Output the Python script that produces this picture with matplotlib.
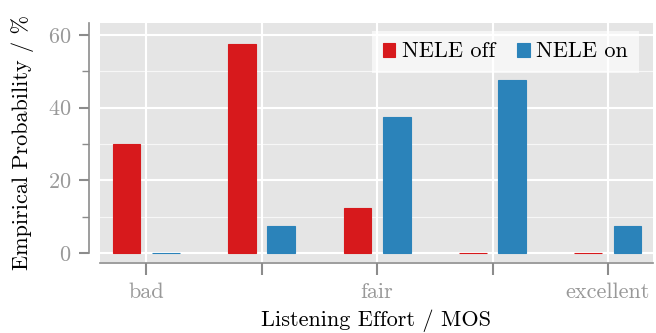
import numpy as np
import matplotlib
matplotlib.use('Agg')
import matplotlib.pyplot as plt
from matplotlib.ticker import MultipleLocator

categories = ['bad', 'poor', 'fair', 'good', 'excellent']
tick_labels = ['bad', '', 'fair', '', 'excellent']
nele_off = [30.0, 57.5, 12.5, 0.0, 0.0]
nele_on = [0.0, 7.5, 37.5, 47.5, 7.5]

plt.rcParams['font.family'] = ['cmr10', 'DejaVu Serif']
plt.rcParams['axes.formatter.use_mathtext'] = True
plt.rcParams['font.size'] = 16

red = '#d7191c'
blue = '#2b83ba'
spine_grey = '#8c8c8c'

fig = plt.figure(figsize=(6.56, 3.33), dpi=100)
ax = fig.add_axes([0.1524, 0.2132, 0.8430, 0.7178])
ax.set_facecolor('#e5e5e5')

x = np.arange(len(categories))
ax.bar(x - 0.17, nele_off, width=0.24, color=red, edgecolor=red, linewidth=0.8,
       label='NELE off', zorder=3)
ax.bar(x + 0.17, nele_on, width=0.24, color=blue, edgecolor=blue, linewidth=0.8,
       label='NELE on', zorder=3)

ax.set_xlim(-0.40, 4.39)
ax.set_ylim(-2.48, 63.3)

ax.set_xticks(x)
ax.set_xticklabels(tick_labels)
ax.yaxis.set_major_locator(MultipleLocator(20))
ax.yaxis.set_minor_locator(MultipleLocator(10))

ax.grid(which='major', color='white', linewidth=1.5, zorder=1)
ax.grid(which='minor', axis='y', color='white', linewidth=0.8, alpha=0.7, zorder=1)
ax.set_axisbelow(True)

for s in ['top', 'right']:
    ax.spines[s].set_visible(False)
ax.spines['left'].set_position(('outward', 8))
ax.spines['left'].set_bounds(0, 63.3)
ax.spines['left'].set_color(spine_grey)
ax.spines['left'].set_linewidth(1.2)
ax.spines['bottom'].set_position(('outward', 1))
ax.spines['bottom'].set_color(spine_grey)
ax.spines['bottom'].set_linewidth(1.2)

ax.tick_params(axis='both', which='major', colors=spine_grey, labelcolor='#999999',
               length=7.5, width=1.5, labelsize=16)
ax.tick_params(axis='y', which='major', pad=5)
ax.tick_params(axis='x', which='major', pad=5, length=8.5)
ax.tick_params(axis='y', which='minor', colors=spine_grey, length=5, width=1.0)

ax.set_ylabel('Empirical Probability / %', fontsize=16, labelpad=10)
ax.set_xlabel('Listening Effort / MOS', fontsize=16, labelpad=6)

# legend sits in the upper right, grid shows faintly through it
leg = ax.legend(ncol=2, loc='upper right', bbox_to_anchor=(0.975, 0.967),
                borderaxespad=0, frameon=True, fancybox=False, fontsize=16,
                handlelength=0.55, handleheight=0.6, handletextpad=0.3,
                columnspacing=1.0, borderpad=0.5)
leg.get_frame().set_facecolor('white')
leg.get_frame().set_alpha(0.65)
leg.get_frame().set_linewidth(0)

fig.savefig('out.png', dpi=100)
